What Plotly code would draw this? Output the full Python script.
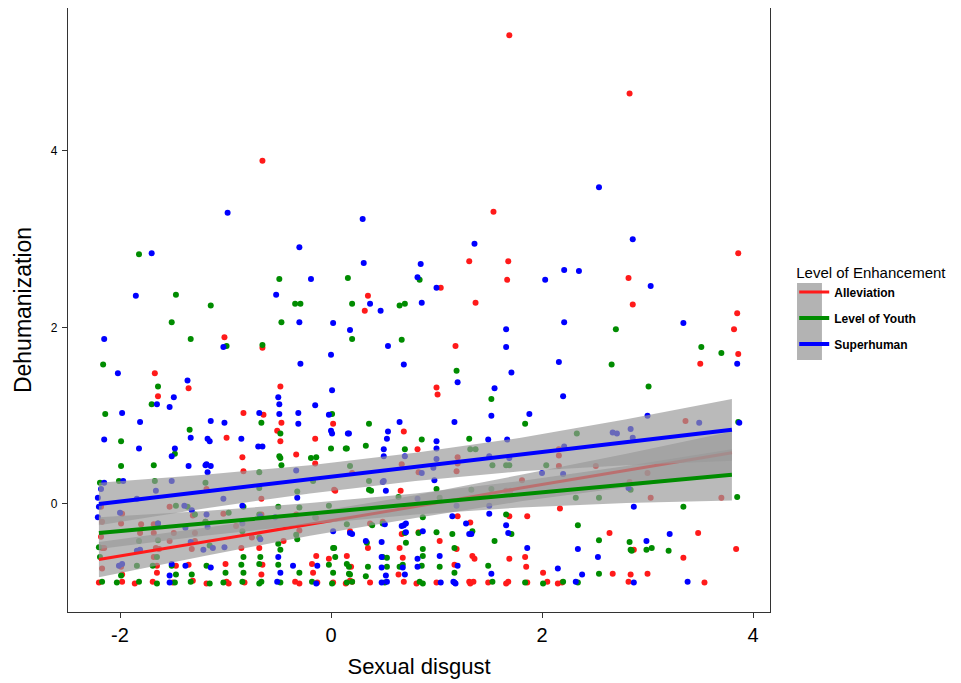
import plotly.graph_objects as go

# ---------------- data ----------------
group_names = ["Alleviation", "Level of Youth", "Superhuman"]
group_colors = ["#FF1A1A", "#008C00", "#0000FF"]

red_points = [
    (1.69, 5.31), (2.83, 4.65), (-0.65, 3.89), (1.54, 3.31), (1.31, 2.75), (1.68, 2.75), (1.67, 2.54), (1.04, 2.45),
    (2.82, 2.56), (3.86, 2.84), (2.86, 2.26), (1.37, 2.28), (0.35, 2.36), (0.32, 2.19), (3.85, 2.16), (3.82, 1.98),
    (1.18, 1.79), (3.86, 1.70), (3.50, 1.59), (-1.01, 1.89), (-0.65, 1.77), (-1.67, 1.48), (1.00, 1.32), (1.01, 1.24),
    (-1.35, 1.31), (-1.64, 1.22), (-0.83, 1.03), (-0.64, 1.01), (-0.48, 1.33), (-0.47, 0.92), (-0.51, 0.83), (-0.48, 0.71),
    (-0.99, 0.75), (-0.84, 0.53), (-0.83, 0.37), (-0.33, 0.56), (-0.15, 0.74), (-0.15, 0.46), (0.02, 0.91),
    (0.69, 0.82), (0.82, 0.62), (0.67, 0.45), (0.20, 0.35), (1.20, 0.53), (1.20, 0.46), (1.19, 0.37), (0.83, 0.36),
    (0.04, 0.15), (0.66, 0.15), (1.20, -0.14), (0.18, -0.31), (0.49, -0.20), (0.83, -0.32),
    (3.36, 0.94), (2.16, 0.62), (2.16, 0.55), (2.16, 0.43), (2.51, 0.43), (1.81, 0.27), (3.00, 0.35), (2.83, 0.25),
    (1.66, 0.15), (1.70, 0.15), (3.03, 0.07), (3.70, 0.07), (2.17, -0.05), (1.69, -0.14), (1.86, -0.14), (1.32, -0.21),
    (2.64, -0.33), (3.48, -0.33), (2.87, -0.52), (3.84, -0.51), (1.19, -0.51), (1.34, -0.59), (1.36, -0.62), (1.69, -0.62),
    (1.84, -0.60), (1.85, -0.71), (3.34, -0.61), (1.17, -0.69), (2.01, -0.78), (2.67, -0.79), (2.84, -0.80), (3.00, -0.79),
    (-2.18, -0.03), (-1.98, -0.11), (-2.17, -0.20), (-2.18, -0.37), (-2.17, -0.50), (-2.15, -0.50), (-2.17, -0.73),
    (-1.53, -0.03), (-1.31, -0.13), (-1.99, -0.22), (-1.80, -0.23), (-1.68, -0.23), (-1.19, -0.20), (-1.81, -0.33),
    (-1.68, -0.33), (-1.49, -0.33), (-1.29, -0.33), (-1.53, -0.42), (-1.29, -0.42), (-1.63, -0.51), (-1.32, -0.51),
    (-1.68, -0.60), (-1.99, -0.71), (-1.65, -0.70), (-1.47, -0.70), (-1.98, -0.80),
    (-1.35, -0.69), (-1.00, -0.68), (-0.65, -0.69), (-0.18, -0.68), (-0.14, -0.59), (-0.02, -0.62), (0.15, -0.59),
    (-1.65, -0.78), (-0.66, -0.80), (-0.17, -0.78), (-1.66, -0.50), (-0.85, -0.50), (-0.68, -0.50),
    (-1.02, -0.11), (-1.18, 0.17), (-0.66, -0.12), (-0.66, 0.06), (-0.33, -0.12), (-0.14, -0.16), (0.03, 0.16),
    (-0.90, -0.25), (-0.45, -0.42), (-0.75, -0.38), (-0.30, -0.30),
    (0.37, -0.22), (0.67, -0.34), (1.03, -0.42), (0.35, -0.50), (0.65, -0.50), (0.68, -0.61), (0.19, -0.71), (0.64, -0.80),
    (-2.20, -0.89), (-1.98, -0.88), (-1.86, -0.90), (-1.69, -0.88), (-1.50, -0.89), (-1.31, -0.87), (-1.18, -0.90),
    (-0.99, -0.88), (-0.97, -0.90), (-0.82, -0.89), (-0.34, -0.88), (-0.30, -0.90), (-0.13, -0.89), (0.20, -0.88),
    (0.02, -0.89), (0.14, -0.90), (0.18, -0.87), (0.37, -0.89), (0.69, -0.88), (0.81, -0.90), (1.00, -0.89), (1.31, -0.88),
    (1.32, -0.90), (1.35, -0.88), (1.49, -0.89), (1.66, -0.90), (1.68, -0.88), (1.86, -0.89), (2.05, -0.88), (2.15, -0.90),
    (2.19, -0.89), (2.82, -0.88), (3.54, -0.89),
]

green_points = [
    (-1.82, 2.83), (-1.47, 2.37), (-1.14, 2.25), (-0.49, 2.55), (0.16, 2.56), (-0.34, 2.27), (-0.29, 2.27), (0.20, 2.27),
    (0.65, 2.25), (0.70, 2.27), (-1.51, 2.06), (-1.33, 1.87), (-0.99, 1.79), (-0.47, 2.06), (-0.65, 1.80), (0.20, 1.87),
    (0.67, 1.86), (-2.16, 1.58), (0.84, 2.54), (2.70, 1.98), (3.51, 1.78), (3.70, 1.71), (2.66, 1.58), (1.19, 1.51),
    (-2.14, 1.02), (-1.64, 1.33), (-1.70, 1.13), (-1.99, 0.71), (-1.99, 0.43), (-1.68, 0.44), (-1.48, 0.57), (-1.34, 0.84),
    (-0.66, 0.92), (-0.68, 0.36), (-0.48, 0.80), (-0.49, 0.54), (-0.48, 0.52), (-0.47, 0.44), (-0.19, 0.52), (-0.14, 0.53),
    (0.01, 1.02), (0.00, 0.63), (0.15, 0.63),
    (0.36, 0.91), (0.14, 0.63), (0.33, 0.66), (0.70, 0.62), (0.86, 0.73), (0.18, 0.43), (0.36, 0.26), (0.36, 0.16),
    (0.38, 0.15), (1.00, 0.17), (0.64, 0.08), (1.03, 0.07), (0.87, -0.15), (0.15, -0.23), (0.39, -0.24), (1.00, -0.32),
    (3.01, 1.33), (1.52, 1.19), (1.84, 0.91), (3.86, 0.93), (1.31, 0.74), (1.32, 0.62), (1.37, 0.62), (2.33, 0.80),
    (1.53, 0.44), (1.66, 0.44), (1.69, 0.44), (2.04, 0.44), (1.33, 0.16), (1.52, 0.17), (2.84, 0.16), (3.85, 0.08),
    (2.32, 0.07), (2.54, 0.07), (3.34, -0.03), (1.66, -0.12), (2.34, -0.24), (1.34, -0.31), (1.15, -0.34), (1.71, -0.34),
    (1.55, -0.42), (2.54, -0.41), (2.83, -0.43), (2.84, -0.52), (2.85, -0.53), (3.04, -0.50), (2.99, -0.52), (3.20, -0.53),
    (1.17, -0.50), (1.49, -0.70), (1.17, -0.78), (2.54, -0.79),
    (-2.19, 0.24), (-2.01, 0.26), (-1.67, 0.26), (-1.19, 0.24), (-1.47, -0.02), (-1.29, -0.12), (-1.19, -0.20),
    (-1.82, -0.42), (-1.64, -0.41), (-1.65, -0.60), (-1.84, -0.70), (-1.69, -0.70), (-1.51, -0.70), (-1.18, -0.70),
    (-1.99, -0.81), (-1.47, -0.80), (-2.19, -0.60), (-2.20, -0.49),
    (-0.85, -0.69), (-0.68, -0.68), (-0.50, -0.69), (-0.02, -0.69), (0.17, -0.71),
    (-1.32, -0.80), (-1.00, -0.78), (-0.83, -0.78), (-0.30, -0.78), (0.02, -0.78), (0.18, -0.80),
    (-0.83, -0.60), (-0.67, -0.60), (-0.48, -0.52), (-0.32, -0.40), (0.02, -0.50),
    (-1.64, -0.22), (-1.36, -0.03), (-0.97, -0.10), (-0.83, -0.03), (-0.84, -0.31), (-0.68, -0.12), (-0.50, -0.03),
    (-0.30, -0.04), (-0.15, -0.15), (-0.02, -0.02), (-0.33, -0.35), (-1.15, -0.47), (-0.50, -0.45), (-0.68, -0.38),
    (-0.68, 0.18), (-0.17, 0.26), (-0.32, 0.14),
    (0.49, -0.22), (0.70, -0.33), (0.83, -0.33), (0.34, -0.44), (0.71, -0.44), (0.87, -0.51), (0.03, -0.50), (0.04, -0.60),
    (0.49, -0.60), (0.53, -0.61), (0.87, -0.59), (0.15, -0.68), (0.35, -0.71), (0.53, -0.71), (0.65, -0.71), (0.68, -0.69),
    (0.86, -0.70), (1.03, -0.71), (0.17, -0.79), (0.33, -0.82),
    (-2.17, -0.88), (-2.03, -0.89), (-1.82, -0.88), (-1.65, -0.90), (-1.48, -0.89), (-1.33, -0.88), (-1.15, -0.90),
    (-1.02, -0.89), (-0.84, -0.88), (-0.68, -0.90), (-0.66, -0.88), (-0.48, -0.89), (-0.18, -0.88), (0.01, -0.90),
    (0.15, -0.89), (0.20, -0.88), (0.51, -0.89), (0.84, -0.88), (0.87, -0.90), (1.53, -0.88), (1.84, -0.89), (2.01, -0.90),
    (2.20, -0.88), (2.34, -0.89),
]

blue_points = [
    (-0.98, 3.30), (0.30, 3.23), (-0.30, 2.91), (-1.70, 2.84), (0.31, 2.73), (-1.85, 2.36), (-0.19, 2.55), (-0.52, 2.37),
    (0.37, 2.27), (0.47, 2.19), (-2.15, 1.87), (-1.02, 1.78), (-0.30, 2.06), (0.02, 2.05), (0.18, 1.97), (0.54, 1.79),
    (0.00, 1.69), (-0.29, 1.59), (0.69, 1.58), (-2.02, 1.48), (2.54, 3.59), (2.86, 3.00), (1.36, 2.95), (0.85, 2.72),
    (0.82, 2.57), (1.00, 2.45), (2.03, 2.54), (2.21, 2.65), (2.35, 2.64), (3.03, 2.47), (0.86, 2.28), (1.66, 1.98),
    (2.21, 2.06), (3.34, 2.05), (1.66, 1.78), (2.16, 1.61), (3.85, 1.59), (1.71, 1.49),
    (-1.98, 1.03), (-1.36, 1.40), (-1.49, 1.21), (-1.65, 1.13), (-1.53, 1.10), (-1.81, 0.93), (-2.15, 0.73), (-1.82, 0.63),
    (-1.35, 0.43), (-1.48, 0.63), (-1.51, 0.54), (-1.33, 0.75), (-1.14, 0.94), (-1.01, 0.92), (-1.17, 0.74), (-1.15, 0.71),
    (-0.85, 0.74), (-0.68, 1.03), (-0.69, 0.65), (-0.65, 0.65), (-1.18, 0.45), (-1.17, 0.36), (-1.14, 0.43), (-0.50, 1.21),
    (-0.49, 1.13), (-0.49, 1.02), (-0.31, 1.03), (-0.31, 0.91), (-0.15, 1.12), (-0.02, 1.01), (0.00, 0.83), (0.01, 0.80),
    (0.16, 0.80), (0.01, 1.29),
    (0.65, 0.93), (1.17, 0.93), (0.17, 0.80), (0.54, 0.82), (0.53, 0.74), (0.50, 0.62), (0.50, 0.54), (0.70, 0.54),
    (1.00, 0.71), (1.00, 0.63), (1.00, 0.51), (0.97, 0.41), (0.86, 0.35), (0.50, 0.26), (0.49, 0.25), (0.52, 0.15),
    (0.98, 0.27), (0.82, 0.06), (1.19, -0.02), (1.15, -0.14), (0.69, -0.24), (0.71, -0.32), (1.28, -0.22),
    (1.55, 1.31), (1.20, 1.38), (2.20, 1.22), (1.52, 1.00), (1.88, 1.02), (3.00, 1.00), (3.49, 0.92), (3.87, 0.92),
    (1.49, 0.73), (1.67, 0.73), (2.67, 0.81), (2.71, 0.80), (2.84, 0.85), (2.86, 0.75), (1.50, 0.54), (1.69, 0.52),
    (2.21, 0.65), (2.00, 0.35), (2.20, 0.34), (2.82, 0.18), (1.50, -0.02), (2.87, -0.03), (1.50, -0.11), (1.66, -0.24),
    (1.33, -0.34), (1.68, -0.33), (3.21, -0.34), (2.99, -0.42), (1.86, -0.50), (2.34, -0.51), (2.53, -0.60), (1.20, -0.70),
    (2.15, -0.73), (1.52, -0.79), (2.38, -0.80),
    (-1.19, 0.44), (-2.15, 0.24), (-1.97, 0.26), (-1.51, 0.26), (-2.18, 0.17), (-1.66, 0.15), (-2.21, 0.07), (-2.20, -0.03),
    (-2.21, -0.15), (-2.00, -0.10), (-1.84, 0.06), (-1.39, -0.02), (-1.32, -0.07), (-1.64, -0.22), (-1.18, -0.12),
    (-1.38, -0.27), (-1.17, -0.26), (-1.33, -0.43), (-1.84, -0.53), (-1.81, -0.52), (-1.21, -0.52), (-2.01, -0.70),
    (-1.51, -0.68), (-1.38, -0.70), (-1.14, -0.72), (-1.53, -0.81),
    (-1.98, -0.68), (-0.36, -0.70), (-0.13, -0.70), (-0.48, -0.78), (-1.01, -0.49), (-1.12, -0.50),
    (-1.02, 0.06), (-0.84, -0.02), (-0.67, -0.14), (-0.53, -0.15), (-0.32, 0.07), (-0.67, -0.40), (0.18, -0.33), (-0.33, 0.38),
    (-0.84, -0.22), (-0.50, -0.60),
    (0.51, -0.23), (0.67, -0.25), (0.71, -0.22), (0.02, -0.31), (0.20, -0.34), (0.87, -0.31), (1.31, -0.34), (0.33, -0.42),
    (0.48, -0.43), (0.48, -0.60), (0.82, -0.62), (1.03, -0.59), (0.48, -0.72), (0.68, -0.72), (0.82, -0.71), (0.52, -0.81),
    (0.70, -0.80),
    (-1.53, -0.89), (-0.51, -0.88), (-0.14, -0.90), (0.48, -0.89), (0.53, -0.88), (1.04, -0.89), (1.16, -0.88), (1.18, -0.90),
    (1.17, -0.89), (2.32, -0.88), (2.87, -0.89), (3.38, -0.88),
]

# fitted regression lines and 95% bands
fit_x = [-2.2, -1.2, -0.2, 0.8, 1.8, 2.8, 3.8]
red_fit = [-0.63, -0.43, -0.23, -0.03, 0.18, 0.38, 0.58]
red_lo = [-0.83, -0.59, -0.36, -0.16, 0.03, 0.19, 0.34]
red_hi = [-0.43, -0.27, -0.10, 0.10, 0.33, 0.57, 0.82]
green_fit = [-0.33, -0.22, -0.11, 0.00, 0.11, 0.22, 0.33]
green_lo = [-0.51, -0.36, -0.23, -0.12, -0.04, 0.01, 0.04]
green_hi = [-0.15, -0.08, 0.01, 0.12, 0.26, 0.43, 0.62]
blue_fit = [0.00, 0.14, 0.28, 0.42, 0.56, 0.70, 0.84]
blue_lo = [-0.24, -0.05, 0.12, 0.26, 0.37, 0.44, 0.49]
blue_hi = [0.24, 0.33, 0.44, 0.58, 0.75, 0.96, 1.19]

x_ticks = [-2, 0, 2, 4]
x_tick_labels = ["-2", "0", "2", "4"]
y_ticks = [0, 2, 4]
y_tick_labels = ["0", "2", "4"]

# ---------------- figure ----------------
FONT = "Liberation Sans, Arial, Helvetica, sans-serif"
fig = go.Figure()

all_points = [red_points, green_points, blue_points]
for pts, name, col in zip(all_points, group_names, group_colors):
    fig.add_trace(go.Scatter(
        x=[p[0] for p in pts], y=[p[1] for p in pts], mode="markers",
        marker=dict(color=col, size=6, line=dict(width=0)),
        name=name, showlegend=False, hoverinfo="skip"))

fits = [(red_fit, red_lo, red_hi, 3), (green_fit, green_lo, green_hi, 4), (blue_fit, blue_lo, blue_hi, 4)]
for (fit, lo, hi, lw), name, col in zip(fits, group_names, group_colors):
    fig.add_trace(go.Scatter(
        x=fit_x + fit_x[::-1], y=hi + lo[::-1], mode="lines", fill="toself",
        fillcolor="rgba(153,153,153,0.68)", line=dict(width=0), showlegend=False,
        hoverinfo="skip"))
    fig.add_trace(go.Scatter(
        x=fit_x, y=fit, mode="lines", line=dict(color=col, width=lw),
        name=name, legendgroup=name, showlegend=True))

# the page body adds an 8px offset; the figure is sized to fit the 961x683 window
fig.update_layout(
    template="none",
    width=953, height=675,
    margin=dict(l=60, r=191, t=0, b=71, autoexpand=False),
    paper_bgcolor="white", plot_bgcolor="white",
    font=dict(family=FONT, color="black"),
    xaxis=dict(range=[-2.493, 4.161], tickvals=x_ticks, ticktext=x_tick_labels,
               ticks="outside", ticklen=5, tickwidth=1.2,
               tickcolor="#333333", showgrid=False, zeroline=False, showline=True,
               linecolor="#333333", linewidth=1.2, mirror=True, automargin=False,
               tickfont=dict(size=20, color="black"),
               title=dict(text="Sexual disgust", font=dict(size=22, color="black"), standoff=13)),
    yaxis=dict(range=[-1.224, 5.620], tickvals=y_ticks, ticktext=y_tick_labels,
               ticks="outside", ticklen=5, tickwidth=1.2, ticklabelstandoff=2,
               tickcolor="#333333", showgrid=False, zeroline=False, showline=True,
               linecolor="#333333", linewidth=1.2, mirror=True, automargin=False,
               tickfont=dict(size=12, color="black"),
               title=dict(text="Dehumanization", font=dict(size=23, color="black"), standoff=12)),
    legend=dict(x=1.0345, y=0.586, xanchor="left", yanchor="top",
                bgcolor="rgba(0,0,0,0)", tracegroupgap=7, borderwidth=0,
                title=dict(text="Level of Enhancement",
                           font=dict(size=15, color="black", weight="normal")),
                font=dict(size=12, color="black", weight="bold")),
    shapes=[dict(type="rect", xref="paper", yref="paper",
                 x0=1.0385, x1=1.074, y0=0.4172, y1=0.5447,
                 fillcolor="#b3b3b3", line=dict(width=0), layer="below")],
)

fig.write_html("out.html")
